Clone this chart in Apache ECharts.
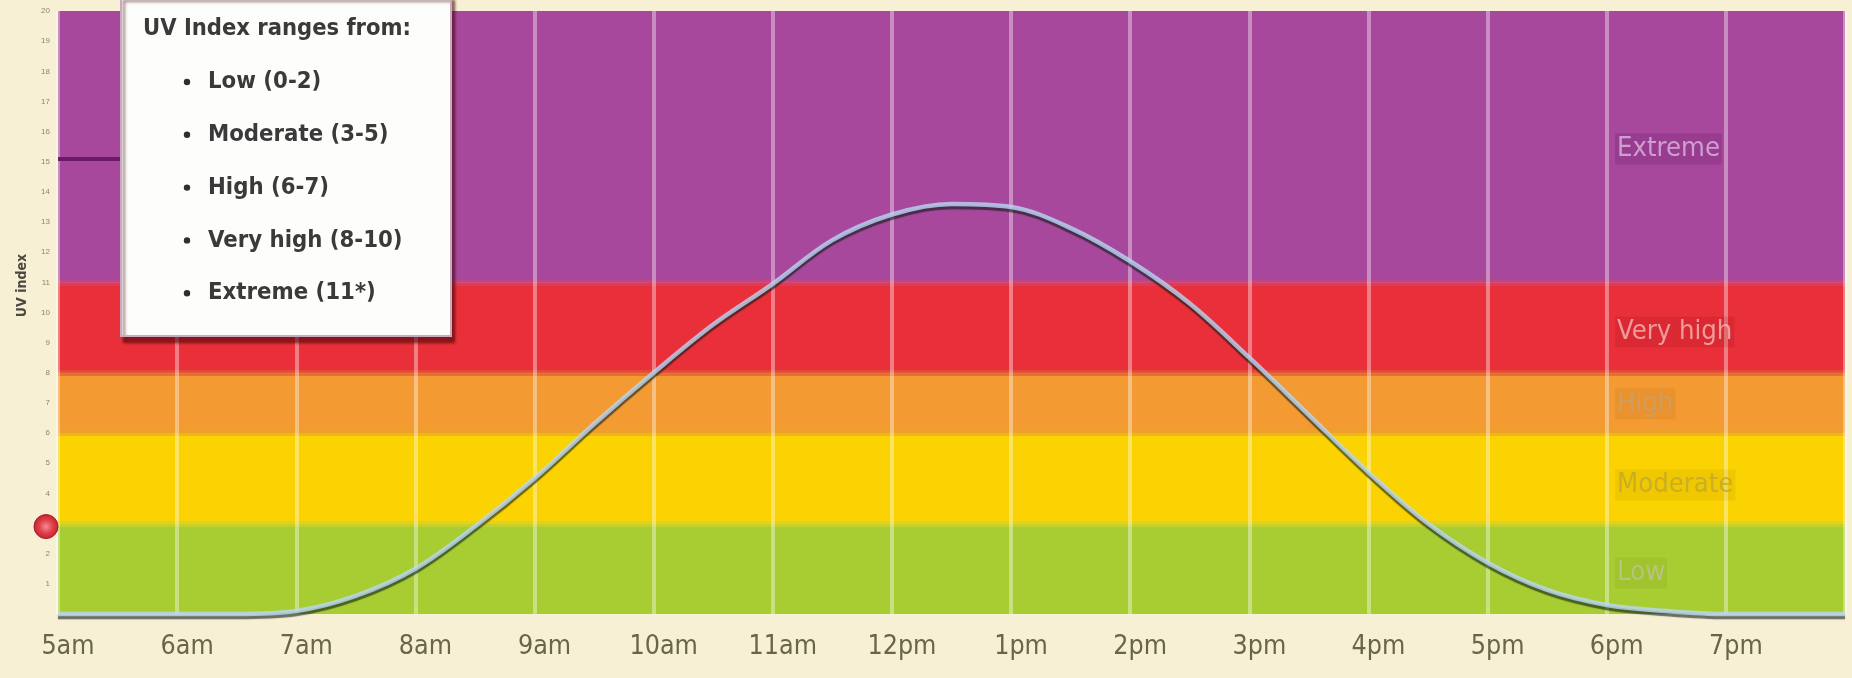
<!DOCTYPE html>
<html>
<head>
<meta charset="utf-8">
<script src="https://cdn.jsdelivr.net/npm/echarts@6/dist/echarts.min.js"></script>
<style>
  html, body { margin: 0; padding: 0; background: #f7f0d4; }
  #chart { width: 1852px; height: 678px; }
</style>
</head>
<body>
<div id="chart"></div>
<script>
// ---- data ----
var hours = [5, 5.5, 6, 6.5, 7, 7.5, 8, 8.5, 9, 9.5, 10, 10.5, 11, 11.5, 12, 12.5, 13, 13.5, 14, 14.5, 15, 15.5, 16, 16.5, 17, 17.5, 18, 18.5, 19, 19.5, 20];
var uvIndex = [0, 0, 0, 0, 0.1, 0.6, 1.5, 2.9, 4.5, 6.3, 8.0, 9.6, 10.95, 12.4, 13.25, 13.6, 13.5, 12.8, 11.7, 10.3, 8.5, 6.6, 4.7, 3.0, 1.7, 0.8, 0.3, 0.1, 0, 0, 0];
var hourLabels = ['5am', '6am', '7am', '8am', '9am', '10am', '11am', '12pm', '1pm', '2pm', '3pm', '4pm', '5pm', '6pm', '7pm', ''];
var yTickLabels = ['', '1', '2', '3', '4', '5', '6', '7', '8', '9', '10', '11', '12', '13', '14', '15', '16', '17', '18', '19', '20'];
var bandNames = ['Low', 'Moderate', 'High', 'Very high', 'Extreme'];
var bandFrom = [0, 3, 6, 8, 11];
var bandTo = [3, 6, 8, 11, 20];
var bandEdges = [3, 6, 8, 11];
var bandLabelX = 18.07;
var bandLabelY = [1.36, 4.28, 6.97, 9.35, 15.42];
var legendTitle = 'UV Index ranges from:';
var legendItems = ['Low (0-2)', 'Moderate (3-5)', 'High (6-7)', 'Very high (8-10)', 'Extreme (11*)'];
var pointerLevel = 15.1;
var markerLevel = 2.9;

// ---- styles ----
var bandColors = ['#a8cd33', '#fbd303', '#f39a33', '#e9303a', '#a8489c'];
var edgeColors = ['#d2d128', '#eaa526', '#e2582f', '#cf4576'];
var bandLabelColors = ['#bcc692', '#c0a72c', '#caa06c', '#f6b7b7', '#dcb6e4'];
var bandLabelBg = ['rgba(70,90,0,0.10)', 'rgba(130,100,0,0.12)', 'rgba(130,60,0,0.10)', 'rgba(120,0,0,0.16)', 'rgba(70,0,80,0.20)'];
var NARROW = '"Liberation Sans Narrow", "DejaVu Sans Condensed", "Arial Narrow", sans-serif';

// fit a font size so that a sample string has the width seen in the picture
var measureCtx = document.createElement('canvas').getContext('2d');
function fitSize(sample, targetWidth, weight) {
  measureCtx.font = (weight || 'normal') + ' 100px ' + NARROW;
  var w = measureCtx.measureText(sample).width;
  return Math.round(100 * targetWidth / w * 10) / 10;
}
var axisFont = fitSize('12pm', 69);
var bandFont = fitSize('Extreme', 103);
var legendFont = fitSize('Very high (8-10)', 195, 'bold');
var titleFont = fitSize(legendTitle, 268, 'bold');

var curveData = hours.map(function (h, i) { return [h, uvIndex[i]]; });
var bandAreas = bandNames.map(function (n, i) {
  return [
    { yAxis: bandFrom[i], itemStyle: { color: bandColors[i] } },
    { yAxis: bandTo[i] }
  ];
});
var edgeLines = bandEdges.map(function (v, i) {
  return { yAxis: v, lineStyle: { color: edgeColors[i] } };
});
var labelData = bandNames.map(function (n, i) {
  return {
    value: [bandLabelX, bandLabelY[i]],
    name: n,
    label: { color: bandLabelColors[i], backgroundColor: bandLabelBg[i] }
  };
});

var legendGraphics = [
  {
    type: 'rect', z: 100,
    shape: { x: 0, y: 0, width: 330, height: 341 },
    style: {
      fill: '#fdfdfb', stroke: '#c9aabf', lineWidth: 2,
      shadowBlur: 3, shadowOffsetX: 3, shadowOffsetY: 6, shadowColor: 'rgba(60,0,0,0.55)'
    }
  },
  {
    type: 'text', z: 101,
    style: {
      text: legendTitle, x: 22, y: 34, fill: '#3a3a3a',
      font: 'bold ' + titleFont + 'px ' + NARROW, verticalAlign: 'middle'
    }
  }
];
legendItems.forEach(function (t, i) {
  var y = 87 + i * 52.8;
  legendGraphics.push({
    type: 'circle', z: 101,
    shape: { cx: 66, cy: y, r: 3.2 },
    style: { fill: '#2f2f2f' }
  });
  legendGraphics.push({
    type: 'text', z: 101,
    style: {
      text: t, x: 87, y: y, fill: '#3a3a3a',
      font: 'bold ' + legendFont + 'px ' + NARROW, verticalAlign: 'middle'
    }
  });
});

var chart = echarts.init(document.getElementById('chart'), null, { renderer: 'canvas' });
chart.setOption({
  backgroundColor: '#f7f0d4',
  animation: false,
  grid: { left: 58, right: 7, top: 11, bottom: 64 },
  xAxis: {
    type: 'value', min: 5, max: 20, interval: 1, z: 3,
    axisLine: { show: false },
    axisTick: { show: false },
    splitLine: { show: true, lineStyle: { color: 'rgba(255,255,255,0.38)', width: 4 } },
    axisLabel: {
      margin: 20,
      fontFamily: NARROW, fontSize: axisFont, color: '#6a6547',
      padding: [0, 0, 0, 20],
      formatter: function (v) { return hourLabels[Math.round(v - 5)] || ''; }
    }
  },
  yAxis: {
    type: 'value', min: 0, max: 20, interval: 1, z: 3,
    name: 'UV index', nameLocation: 'middle', nameGap: 29, nameRotate: 90,
    nameTextStyle: { fontSize: 14, fontWeight: 'bold', color: '#4a4840', fontFamily: NARROW, padding: [0, 0, 0, 54] },
    axisLine: { show: false },
    axisTick: { show: false },
    splitLine: { show: false },
    axisLabel: {
      margin: 8, fontSize: 8, color: '#8c876a',
      formatter: function (v) { return yTickLabels[Math.round(v)] || ''; }
    }
  },
  graphic: [{
    type: 'group', left: 120, top: -6, z: 100,
    children: legendGraphics
  }],
  series: [
    {
      name: 'bands', type: 'line', z: 1, silent: true,
      data: [[5, 0]], showSymbol: false, lineStyle: { width: 0, opacity: 0 },
      markArea: { silent: true, z: 1, data: bandAreas }
    },
    {
      name: 'band edges', type: 'line', z: 2, silent: true,
      data: [[5, 0]], showSymbol: false, lineStyle: { width: 0, opacity: 0 },
      markLine: {
        silent: true, z: 2, symbol: 'none', label: { show: false },
        lineStyle: { width: 6, type: 'solid', opacity: 0.65 },
        data: edgeLines
      }
    },
    {
      name: 'UV index', type: 'line', z: 5, smooth: 0.35, clip: false,
      showSymbol: false, silent: true,
      data: curveData,
      lineStyle: {
        width: 4.5, color: 'rgba(185,215,245,0.8)',
        shadowColor: 'rgba(10,25,20,0.75)', shadowOffsetY: 3, shadowBlur: 1
      },
      markLine: {
        silent: true, symbol: 'none', label: { show: false },
        lineStyle: { color: '#6a1b66', width: 4, type: 'solid' },
        data: [[{ coord: [5, pointerLevel] }, { coord: [5.6, pointerLevel] }]]
      },
      markPoint: {
        silent: true, symbol: 'circle', symbolSize: 24, symbolOffset: [-12, 0],
        label: { show: false },
        itemStyle: {
          color: {
            type: 'radial', x: 0.5, y: 0.5, r: 0.5,
            colorStops: [{ offset: 0, color: '#f58a94' }, { offset: 0.55, color: '#e0404a' }, { offset: 1, color: '#c4222e' }]
          },
          borderColor: '#a81c28', borderWidth: 1
        },
        data: [{ coord: [5, markerLevel] }]
      }
    },
    {
      name: 'band labels', type: 'scatter', z: 4, silent: true,
      symbolSize: 0,
      data: labelData,
      label: {
        show: true, position: 'right', distance: 0,
        fontFamily: NARROW, fontSize: bandFont,
        padding: [2, 2, 2, 2],
        formatter: function (p) { return p.name; }
      }
    }
  ]
});
</script>
</body>
</html>
